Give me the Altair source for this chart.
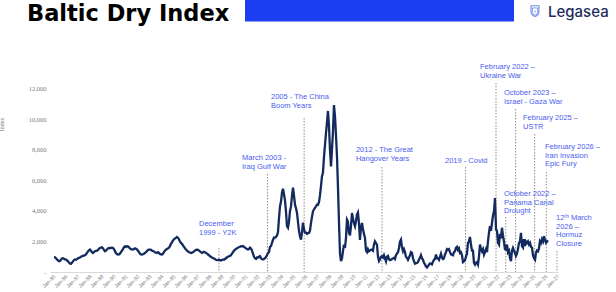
import altair as alt
import pandas as pd

# Monthly Baltic Dry Index readings, Jan 1985 .. Mar 2026
bdi = [
    970, 960, 900, 830, 760, 710, 720, 800, 880, 900, 870, 830,          # 1985
    820, 760, 700, 620, 560, 535, 600, 700, 780, 820, 800, 850,          # 1986
    900, 930, 950, 1000, 1035, 1060, 1080, 1100, 1150, 1250, 1350, 1420, # 1987
    1470, 1400, 1300, 1250, 1300, 1360, 1380, 1400, 1450, 1520, 1580, 1600,  # 1988
    1620, 1550, 1450, 1360, 1400, 1480, 1550, 1580, 1560, 1580, 1600, 1580,  # 1989
    1500, 1350, 1250, 1180, 1140, 1150, 1200, 1300, 1400, 1500, 1620, 1680,  # 1990
    1650, 1690, 1680, 1620, 1550, 1500, 1480, 1470, 1500, 1550, 1520, 1480,  # 1991
    1400, 1300, 1200, 1150, 1140, 1160, 1200, 1250, 1300, 1380, 1450, 1470,  # 1992
    1470, 1450, 1400, 1380, 1350, 1300, 1270, 1250, 1300, 1250, 1180, 1150,  # 1993
    1140, 1200, 1300, 1400, 1470, 1500, 1550, 1600, 1700, 1850, 1950, 2050,  # 1994
    2150, 2200, 2235, 2300, 2250, 2150, 2000, 1910, 1850, 1750, 1650, 1550,  # 1995
    1470, 1400, 1350, 1300, 1280, 1250, 1270, 1300, 1350, 1400, 1450, 1470,  # 1996
    1450, 1400, 1350, 1300, 1250, 1280, 1320, 1300, 1250, 1200, 1150, 1100,  # 1997
    1035, 1000, 950, 920, 880, 850, 800, 780, 775, 800, 780, 760,        # 1998
    790, 820, 800, 850, 900, 950, 1000, 1035, 1050, 1100, 1200, 1300,    # 1999
    1400, 1470, 1500, 1550, 1600, 1620, 1650, 1690, 1680, 1700, 1650, 1600,  # 2000
    1550, 1500, 1470, 1500, 1600, 1550, 1400, 1200, 1000, 900, 860, 950,  # 2001
    950, 1000, 1035, 900, 850, 820, 850, 900, 990, 1100, 1250, 1300,     # 2002
    1650, 1700, 1900, 2100, 2250, 2250, 2300, 2400, 2600, 3500, 4300, 4600,  # 2003
    5200, 5460, 5100, 4700, 4000, 3000, 2900, 3300, 4000, 4300, 5000, 5530,  # 2004
    5000, 4400, 4200, 3890, 3300, 2700, 2340, 2125, 2600, 3240, 2800, 2580,  # 2005
    2580, 2500, 2550, 2560, 2700, 3200, 3600, 3980, 4100, 4200, 4300, 4410,  # 2006
    4410, 4600, 5000, 5600, 6270, 6500, 7500, 8300, 9100, 9800, 10560, 9600,  # 2007
    8010, 6920, 8000, 9200, 10950, 10200, 9000, 7570, 5500, 3240, 1200, 710,  # 2008
    900, 1400, 1800, 1580, 2200, 3430, 3300, 2580, 2400, 3000, 3870, 3500,  # 2009
    3200, 3000, 3300, 3760, 3900, 3200, 2100, 2900, 3220, 2800, 2500, 2235,  # 2010
    1400, 1300, 1500, 1360, 1400, 1450, 1470, 1400, 1800, 2015, 1900, 1800,  # 2011
    1000, 720, 820, 1000, 1035, 950, 1100, 900, 700, 1000, 1050, 850,    # 2012
    780, 800, 850, 880, 930, 850, 1100, 1200, 1300, 1580, 2000, 2125,    # 2013
    1600, 1360, 1500, 1300, 1000, 930, 800, 950, 1100, 1300, 1250, 900,  # 2014
    710, 550, 580, 590, 650, 800, 930, 1100, 900, 800, 600, 500,         # 2015
    360, 300, 390, 480, 560, 550, 500, 680, 800, 860, 1150, 900,         # 2016
    900, 800, 1000, 1200, 950, 850, 900, 1150, 1300, 1500, 1450, 1500,   # 2017
    1300, 1150, 1140, 1100, 1300, 1350, 1580, 1650, 1450, 1550, 1250, 1300,  # 2018
    1100, 650, 700, 770, 1000, 1200, 1900, 2015, 2300, 1800, 1400, 1400,  # 2019
    600, 480, 600, 650, 490, 1000, 1800, 1500, 1350, 1500, 1140, 1300,   # 2020
    1500, 1300, 2000, 2560, 3000, 2700, 3200, 3700, 4000, 4850, 2800, 2700,  # 2021
    1910, 1800, 2500, 2200, 2900, 2400, 2000, 1500, 1470, 1800, 1300, 1400,  # 2022
    900, 710, 1400, 1580, 1400, 1250, 1050, 1200, 1500, 1910, 2000, 2560,  # 2023
    1700, 1600, 2150, 1700, 2000, 1900, 2000, 1800, 1910, 1650, 1600, 1100,  # 2024
    900, 800, 1250, 1400, 1350, 1550, 2015, 1900, 2150, 2000, 2340, 2100,  # 2025
    1910, 2000, 2080,                                                    # 2026
]
months = pd.date_range("1985-01-01", periods=len(bdi), freq="MS").strftime("%Y-%m-%d")

y_ticks = [0, 2000, 4000, 6000, 8000, 10000, 12000]

# Event annotations (dates/levels as drawn in the reference)
event_labels = [
    "December\n1999 - Y2K",
    "March 2003 -\nIraq Gulf War",
    "2005 - The China\nBoom Years",
    "2012 - The Great\nHangover Years",
    "2019 - Covid",
    "February 2022 \u2013\nUkraine War",
    "October 2022 \u2013\nPanama Canal\nDrought",
    "October 2023 \u2013\nIsrael - Gaza War",
    "February 2025 \u2013\nUSTR",
    "February 2026 \u2013\nIran Invasion\nEpic Fury",
    "12\u1d57\u02b0 March\n2026 \u2013\nHormuz\nClosure",
]
event_line_dates = ["1998-10-01", "2002-10-15", "2005-11-05", "2012-05-01", "2019-04-20",
                    "2021-11-01", "2022-08-25", "2023-06-20", "2025-01-20", "2026-01-10",
                    "2026-12-01"]
event_line_tops = [1574, 6426, 10098, 6885, 6885, 12393, 3606, 10688, 9049, 6557, 1377]
label_dates = ["1997-02-01", "2000-09-01", "2003-02-01", "2010-03-01", "2017-08-01",
               "2020-07-01", "2022-07-01", "2022-07-01", "2024-02-01", "2025-12-01",
               "2026-11-01"]
label_levels = [3410, 7737, 11737, 8262, 7573, 13704, 5377, 11999, 10360, 8459, 3803]

series = pd.DataFrame({"date": months, "bdi": bdi})
events = pd.DataFrame({
    "label": event_labels,
    "line_date": event_line_dates,
    "top": event_line_tops,
    "label_date": label_dates,
    "level": label_levels,
})

W, H = 508, 272
NAVY = "#132a5e"
ANNOT = "#4a5cf0"

x_scale = alt.Scale(domain=[alt.DateTime(year=1984, month=9, date=1),
                            alt.DateTime(year=2027, month=1, date=1)])
y_scale = alt.Scale(domain=[0, 17836], nice=False)

x_axis = alt.Axis(
    tickCount={"interval": "year", "step": 1},
    format="%b-%y", labelAngle=315, labelAlign="right", labelBaseline="middle",
    labelFontSize=5.3, labelColor="#7a7a7a", labelFont="Liberation Sans",
    labelPadding=3, ticks=False, grid=False, domainColor="#d9d9d9",
    labelOverlap=False, labelBound=False, labelSeparation=0, labelFlush=False,
    title=None,
)
y_axis = alt.Axis(
    values=y_ticks,
    labelExpr="datum.value == 0 ? '-' : format(datum.value, ',')",
    labelFont="Liberation Serif", labelFontSize=6.5, labelColor="#7a7a7a",
    labelPadding=4, ticks=False, domain=False, grid=False,
    title="Index", titleFont="Liberation Serif", titleFontSize=6,
    titleFontWeight="normal", titleColor="#7a7a7a", titleX=-46, titleY=124,
)

line = alt.Chart(series).mark_line(color=NAVY, strokeWidth=2.3).encode(
    x=alt.X("date:T", scale=x_scale, axis=x_axis),
    y=alt.Y("bdi:Q", scale=y_scale, axis=y_axis),
)

rules = alt.Chart(events).mark_rule(color="#8c8c8c", strokeWidth=1, strokeDash=[1.5, 1.5]).encode(
    x=alt.X("line_date:T", scale=x_scale),
    y=alt.Y("top:Q", scale=y_scale),
    y2=alt.datum(0),
)

labels = alt.Chart(events).mark_text(
    align="left", baseline="top", lineBreak="\n", lineHeight=8.7,
    fontSize=7.5, font="Liberation Sans", color=ANNOT,
).encode(
    x=alt.X("label_date:T", scale=x_scale),
    y=alt.Y("level:Q", scale=y_scale),
    text="label:N",
)

# Header: title, blue band, logo
header_df = pd.DataFrame({"t": ["Baltic Dry Index"]})
title = alt.Chart(header_df).mark_text(
    align="left", baseline="alphabetic", font="DejaVu Sans", fontWeight="bold",
    fontSize=22.5, color="#000000",
).encode(x=alt.value(-23), y=alt.value(21), text="t:N")

band = alt.Chart(header_df).mark_rect(color="#1b3ff0").encode(
    x=alt.value(195), x2=alt.value(464), y=alt.value(0), y2=alt.value(21.5)
)

logo_df = pd.DataFrame({"t": ["Legasea"]})
logo_text = alt.Chart(logo_df).mark_text(
    align="left", baseline="alphabetic", font="Inter", fontSize=15, fontWeight=500,
    color="#1e2d5c",
).encode(x=alt.value(498), y=alt.value(17), text="t:N")

shield_path = "M -0.75 -1 L 0.75 -1 L 0.75 0.25 Q 0.75 0.8 0 1.05 Q -0.75 0.8 -0.75 0.25 Z"
shield = alt.Chart(logo_df).mark_point(
    shape=shield_path, size=110, filled=False, stroke="#6f8ee6", strokeWidth=1.1, opacity=1
).encode(x=alt.value(485), y=alt.value(11))
shield_inner = alt.Chart(logo_df).mark_point(
    shape=shield_path, size=50, filled=False, stroke="#6f8ee6", strokeWidth=0.9, opacity=1
).encode(x=alt.value(485), y=alt.value(11.5))
bolt = alt.Chart(logo_df).mark_point(
    shape="M 0.2 -1 L -0.5 0.15 L 0 0.15 L -0.2 1 L 0.5 -0.15 L 0 -0.15 Z",
    size=16, filled=True, color="#6f8ee6", opacity=1,
).encode(x=alt.value(485), y=alt.value(11.5))

chart = alt.layer(rules, line, labels, title, band, logo_text, shield, shield_inner, bolt).properties(
    width=W, height=H,
    autosize=alt.AutoSizeParams(type="none"),
    padding={"left": 50, "top": 0, "right": 58, "bottom": 20},
    background="white",
).configure_view(stroke=None)

chart.save("out.html", embed_options={"renderer": "svg", "actions": False})
